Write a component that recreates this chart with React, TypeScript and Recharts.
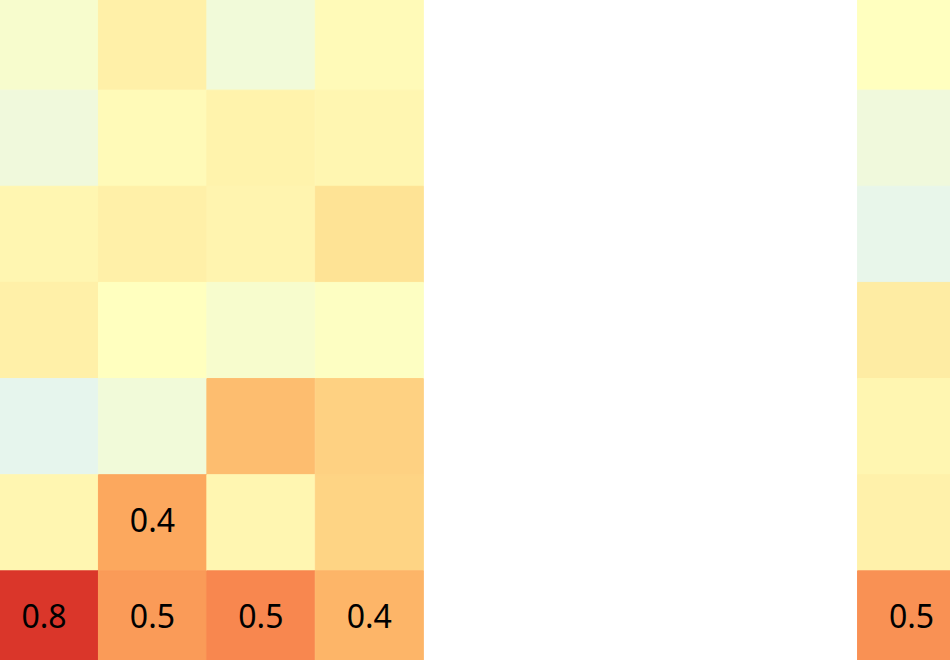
import { BarChart, Bar, XAxis, YAxis, Cell, LabelList } from 'recharts';

// column / row names (axes are cropped out of the view)
const columns = ['c1', 'c2', 'c3', 'c4', 'c5', 'c6', 'c7', 'c8', 'c9'];
const rows = ['r1', 'r2', 'r3', 'r4', 'r5', 'r6', 'r7'];

// cell values, top row first; null = empty (masked) cell
const row1 = [-0.05, 0.10, -0.09, 0.03, null, null, null, null, 0.0];
const row2 = [-0.10, 0.03, 0.08, 0.06, null, null, null, null, -0.10];
const row3 = [0.06, 0.10, 0.07, 0.18, null, null, null, null, -0.15];
const row4 = [0.10, 0.0, -0.05, -0.01, null, null, null, null, 0.12];
const row5 = [-0.16, -0.09, 0.34, 0.26, null, null, null, null, 0.06];
const row6 = [0.06, 0.42, 0.06, 0.25, null, null, null, null, 0.09];
const row7 = [0.78, 0.46, 0.52, 0.37, null, null, null, null, 0.49];

const values: (number | null)[][] = [row1, row2, row3, row4, row5, row6, row7];

const LABEL_MIN = 0.35;

// RdYlBu reversed, vmin -1 .. vmax 1
const STOPS = [
  '#313695', '#4575b4', '#74add1', '#abd9e9', '#e0f3f8', '#ffffbf',
  '#fee090', '#fdae61', '#f46d43', '#d73027', '#a50026',
];

function hexToRgb(h: string) {
  return [1, 3, 5].map((i) => parseInt(h.slice(i, i + 2), 16));
}

function colorFor(v: number | null): string {
  if (v == null) return 'none';
  const t = Math.min(1, Math.max(0, (v + 1) / 2)) * (STOPS.length - 1);
  const i = Math.min(STOPS.length - 2, Math.floor(t));
  const f = t - i;
  const a = hexToRgb(STOPS[i]);
  const b = hexToRgb(STOPS[i + 1]);
  const c = a.map((x, k) => Math.round(x + (b[k] - x) * f));
  return `rgb(${c[0]},${c[1]},${c[2]})`;
}

const data = columns.map((name, ci) => {
  const d: any = { name, ci };
  rows.forEach((r) => { d[r] = 1; });
  return d;
});

function CellLabel(rowIdx: number) {
  return (props: any) => {
    const { x, y, width, height, index } = props;
    const v = values[rowIdx][index];
    if (v == null || Math.abs(v) < LABEL_MIN) return null;
    return (
      <text
        x={x + width / 2}
        y={y + height / 2 - 3}
        textAnchor="middle"
        dominantBaseline="central"
        fontFamily="'Noto Sans', sans-serif"
        fontSize={32}
        fill="#000"
      >
        {v.toFixed(1)}
      </text>
    );
  };
}

export default function App() {
  return (
    <div style={{ position: 'fixed', left: 0, top: 0, width: 950, height: 660, overflow: 'hidden', background: '#fff' }}>
      <div style={{ position: 'absolute', left: -10, top: -6 }}>
        <BarChart
          width={976}
          height={673}
          data={data}
          margin={{ top: 0, right: 0, bottom: 0, left: 0 }}
          barCategoryGap={0}
          barGap={0}
        >
          <XAxis dataKey="name" hide />
          <YAxis type="number" domain={[0, rows.length]} reversed hide />
          {rows.map((r, ri) => (
            <Bar key={r} dataKey={r} stackId="grid" isAnimationActive={false}>
              {data.map((d, ci) => {
                const fill = colorFor(values[ri][ci]);
                return <Cell key={ci} fill={fill} stroke={fill} strokeWidth={1} />;
              })}
              <LabelList content={CellLabel(ri)} />
            </Bar>
          ))}
        </BarChart>
      </div>
    </div>
  );
}
